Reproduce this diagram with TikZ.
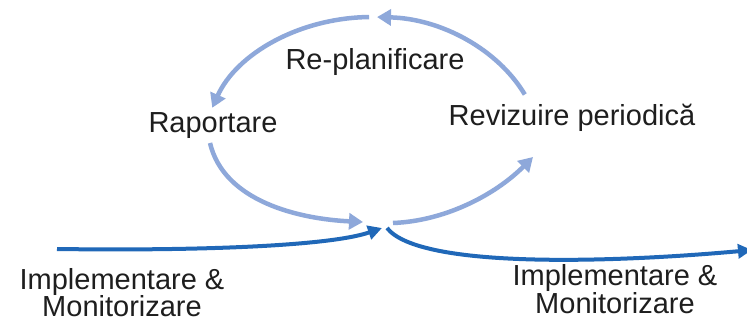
\documentclass[tikz,border=0pt]{standalone}
\usepackage{fontspec}
\setmainfont{Liberation Sans}
\usetikzlibrary{arrows.meta}
\definecolor{lightarc}{RGB}{142,168,218}
\definecolor{darkarc}{RGB}{32,104,184}
\definecolor{txt}{RGB}{30,30,30}
\begin{document}
\begin{tikzpicture}[x=1pt,y=-1pt,
  lbl/.style={font=\fontsize{29}{34}\selectfont, text=txt, inner sep=0pt, anchor=base},
  cyc/.style={draw=lightarc, line width=4.5pt, -{Triangle[length=14pt,width=16pt]}},
  flow/.style={draw=darkarc, line width=4pt, -{Triangle[length=14pt,width=14pt]}}]
\useasboundingbox (0,0) rectangle (747,323);
\fill[white] (0,0) rectangle (747,323);
\clip (0,0) rectangle (747,323);
% labels
\node[lbl] (replan) at (375,70) {Re-planificare};
\node[lbl] (rap) at (213,133) {Raportare};
\node[lbl] (rev) at (572,126) {Revizuire periodică};
\node[lbl] (imL1) at (122,289.5) {Implementare \&};
\node[lbl] (imL2) at (122,316.5) {Monitorizare};
\node[lbl] (imR1) at (615,285.5) {Implementare \&};
\node[lbl] (imR2) at (615,313) {Monitorizare};
% cycle
\coordinate (ctr) at (372,155);
\draw[cyc] (ctr) ++(-91:170 and 138) arc[start angle=-91, end angle=-160, x radius=170, y radius=138];
\draw[cyc] (ctr) ++(-26:170 and 138) arc[start angle=-26, end angle=-88.3, x radius=170, y radius=138];
\coordinate (llS) at (210,143);
\coordinate (llE) at (363,222);
\draw[cyc] (llS) .. controls (224,202) and (300,219) .. (llE);
\coordinate (lrS) at (393,223);
\coordinate (lrE) at (533,157);
\draw[cyc] (lrS) .. controls (445,221) and (495,195) .. (lrE);
% main flow
\coordinate (dlS) at (57,249);
\coordinate (dlE) at (382,228);
\draw[flow] (dlS) .. controls (200,251) and (330,246) .. (dlE);
\coordinate (drS) at (387,228);
\coordinate (drE) at (752,250);
\draw[flow] (drS) .. controls (420,270) and (620,262) .. (drE);
\end{tikzpicture}
\end{document}
